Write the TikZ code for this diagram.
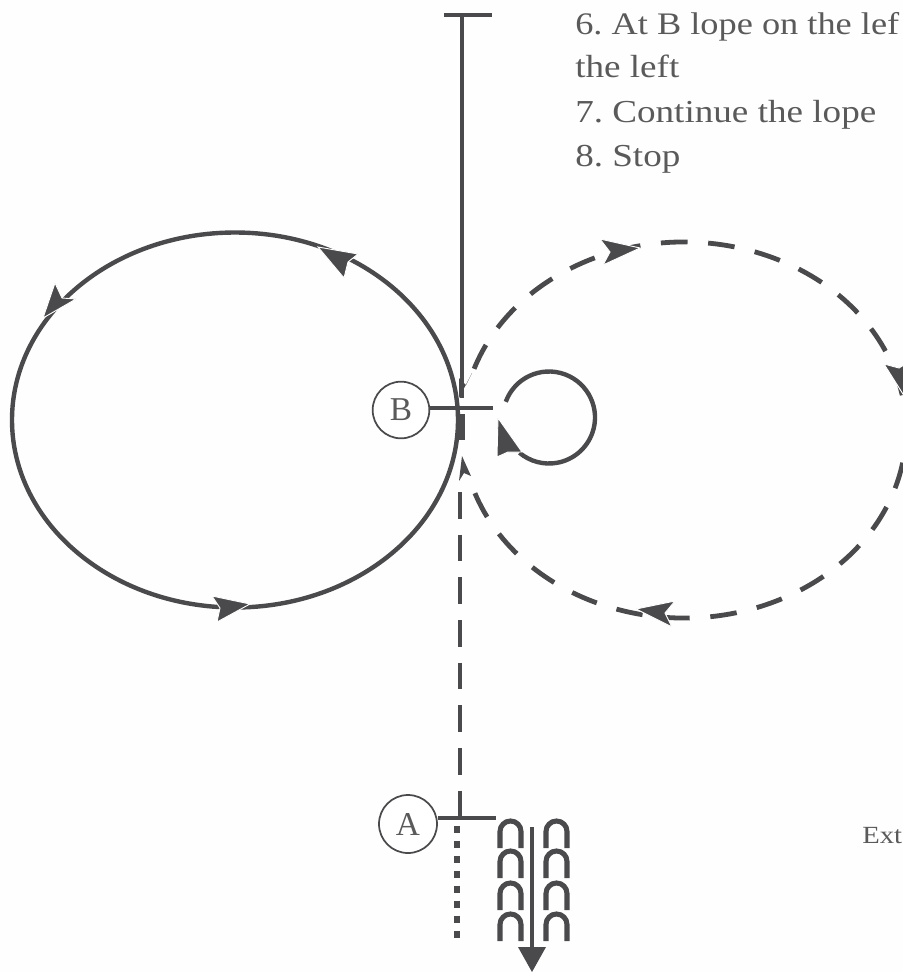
\documentclass[tikz,border=0pt]{standalone}
\usepackage{fontspec}
\setmainfont[FakeStretch=1.16]{Liberation Serif}
\newfontfamily\ringfont{Liberation Serif}
\definecolor{ink}{HTML}{4A4A4C}
\definecolor{txt}{HTML}{5A5A5A}
\definecolor{paper}{HTML}{FEFEFE}
\tikzset{
  track/.style={draw=ink,line width=3.3pt},
  thinrule/.style={draw=ink,line width=2.6pt},
  dashtrack/.style={draw=ink,line width=3.6pt,dash pattern=on 20pt off 15.5pt},
  tipfill/.style={fill=ink,draw=paper,line width=0.7pt},
  hoof/.style={draw=ink,line width=3.8pt},
  ringnode/.style={circle,draw=ink,line width=1.3pt,minimum size=42.5pt,inner sep=0pt,fill=white,text=txt,font=\ringfont\fontsize{25}{25}\selectfont},
  stepline/.style={anchor=base west,text=txt,inner sep=0pt,font=\frenchspacing\fontsize{24}{26}\selectfont},
}
\newcommand{\hooftrace}[2]{\draw[hoof] (#1,#2+27) -- (#1,#2+10.5) arc[start angle=180,end angle=360,radius=10.5] -- ++(0,16.5);}
\begin{document}
\begin{tikzpicture}[x=0.75pt,y=-0.75pt]
\useasboundingbox (0,0) rectangle (903,972);
\clip (0,0) rectangle (903,972);
\fill[paper] (0,0) rectangle (903,972);
% texts
\node[stepline,font=\frenchspacing\fontsize{23.5}{26}\selectfont] (s6) at (575,34) {6. At B lope on the lef};
\node[stepline] (s6b) at (575,77) {the left};
\node[stepline] (s7) at (575,122) {7. Continue the lope};
\node[stepline] (s8) at (575,166) {8. Stop};
\node[stepline,font=\fontsize{18.5}{22}\selectfont] (ext) at (862,843) {Ext};
% solid circle
\draw[track] (235,420) ellipse[x radius=223,y radius=187.5];
% dashed circle
\draw[dashtrack] (684,430) ++(-161:222 and 188) arc[start angle=-161,end angle=161,x radius=222,y radius=188];
% tips on the circles
\fill[tipfill] (318,247) -- (358,254) -- (348,262) -- (344,278) -- cycle;
\fill[tipfill] (43,318) -- (55,283) -- (62,298) -- (76,299) -- cycle;
\fill[tipfill] (250,604) -- (212,596) -- (220,608) -- (217,622) -- cycle;
\fill[tipfill] (640,248) -- (600,239) -- (610,252) -- (603,265) -- cycle;
\fill[tipfill] (908,402) -- (884,364) -- (899,368) -- (912,360) -- cycle;
\fill[tipfill] (636,609) -- (675,601) -- (665,613) -- (672,627) -- cycle;
% entry line
\coordinate (topl) at (444,15);
\coordinate (topr) at (492,15);
\coordinate (topm) at (462,15);
\coordinate (entry) at (462,398);
\draw[thinrule,line width=3.2pt] (topl) -- (topr);
\draw[thinrule,line width=3.2pt] (topm) -- (entry);
\fill[fill=ink] (459,398) -- (459,378) -- (466,385) -- (472,373) -- cycle;
% B
\node[ringnode] (B) at (401,410) {B};
\coordinate (Bend) at (493,408);
\draw[thinrule] (B.east|-Bend) -- (Bend);
% small loop
\draw[track] (549,417.5) ++(200:46) arc[start angle=200,end angle=490,radius=46];
\fill[tipfill] (498,418) -- (522,452) -- (508,452) -- (497,457) -- cycle;
% dashed lead
\coordinate (leada) at (462,414);
\coordinate (leadb) at (462,440);
\draw[track,line width=3.8pt] (leada) -- (leadb);
\fill[fill=ink] (462,456) -- (471,476) -- (464,473) -- (459,481) -- cycle;
\coordinate (leadc) at (460,492);
\coordinate (leadd) at (460,800);
\draw[dashtrack,dash pattern=on 20pt off 12pt] (leadc) -- (leadd);
% A
\node[ringnode,minimum size=43.5pt] (A) at (408,824) {A};
\coordinate (Aend) at (496,818);
\coordinate (Ahi) at (460,798);
\coordinate (Alo) at (460,818);
\draw[thinrule,line width=3pt] (A.east|-Aend) -- (Aend);
\draw[track] (Ahi) -- (Alo);
\coordinate (dota) at (457,826);
\coordinate (dotb) at (457,945);
\draw[draw=ink,line width=3.8pt,dash pattern=on 5.5pt off 5.7pt] (dota) -- (dotb);
% hoof prints
\hooftrace{500}{821}\hooftrace{546}{821}
\hooftrace{500}{851}\hooftrace{546}{851}
\hooftrace{500}{883}\hooftrace{546}{883}
\hooftrace{500}{914}\hooftrace{546}{914}
% arrow
\coordinate (down) at (532,827);
\coordinate (downb) at (532,950);
\draw[thinrule,line width=3pt] (down) -- (downb);
\fill[fill=ink] (518,947) -- (546,947) -- (532,972) -- cycle;
\end{tikzpicture}
\end{document}
